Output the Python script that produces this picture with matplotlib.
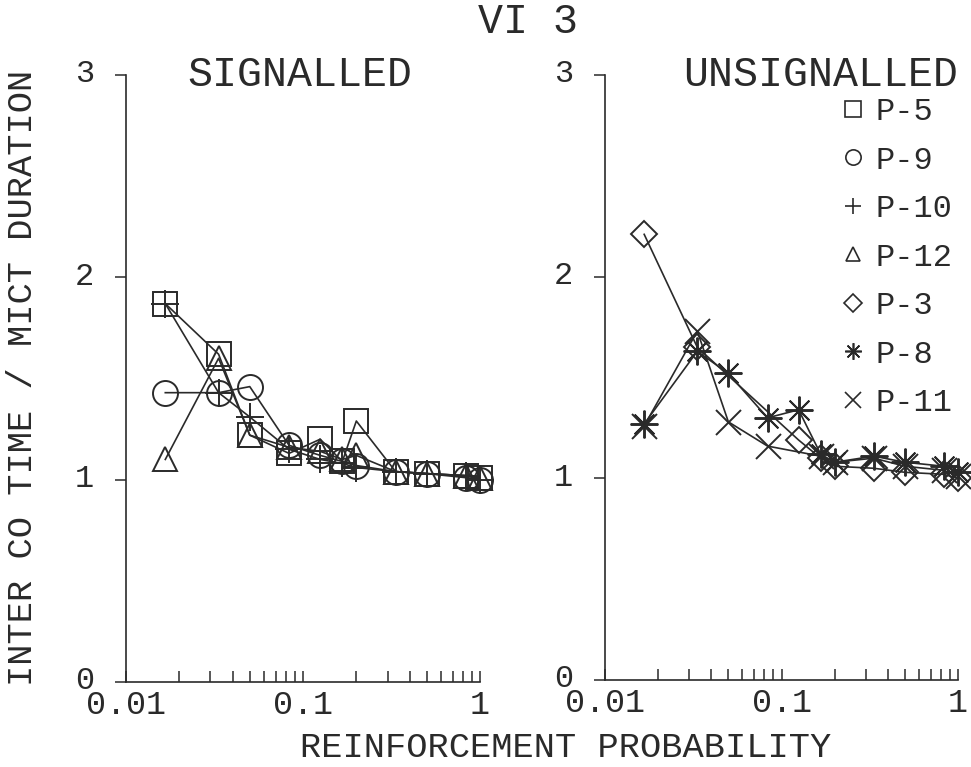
import matplotlib
matplotlib.use("Agg")
import matplotlib.pyplot as plt
import matplotlib.transforms as mtransforms
import numpy as np
from matplotlib.lines import Line2D
from matplotlib.ticker import FixedLocator, LogLocator, NullFormatter

plt.rcParams['font.family'] = ['Liberation Mono', 'DejaVu Sans Mono']

INK = '#2a2a2a'

# reinforcement probabilities used in the sessions
probs = [1/60, 1/30, 1/20, 1/12, 1/8, 1/6, 1/5, 1/3, 1/2, 0.83, 1.0]

# signalled condition (left panel)
p5_y = [1.87, 1.62, 1.22, 1.13, 1.20, 1.09, 1.29, 1.04, 1.03, 1.02, 1.01]
p9_y = [1.43, 1.43, 1.46, 1.17, 1.12, 1.09, 1.07, 1.04, 1.03, 1.01, 1.00]
p10_y = [1.87, 1.43, 1.31, 1.15, 1.10, 1.08, 1.06, 1.04, 1.03, 1.02, 1.00]
p12_y = [1.10, 1.60, 1.22, 1.16, 1.14, 1.10, 1.12, 1.04, 1.03, 1.02, 1.01]

# unsignalled condition (right panel)
p3_x = [1/60, 1/30, 1/8, 1/6, 1/5, 1/3, 1/2, 0.83, 1.0]
p3_y = [2.21, 1.65, 1.19, 1.10, 1.06, 1.05, 1.03, 1.02, 1.00]
p8_x = probs
p8_y = [1.27, 1.63, 1.52, 1.30, 1.34, 1.12, 1.08, 1.11, 1.08, 1.06, 1.03]
p11_x = [1/60, 1/30, 1/20, 1/12, 1/6, 1/5, 1/3, 1/2, 0.83, 1.0]
p11_y = [1.26, 1.73, 1.28, 1.16, 1.11, 1.08, 1.10, 1.06, 1.04, 1.01]

labels = ['P-5', 'P-9', 'P-10', 'P-12', 'P-3', 'P-8', 'P-11']
markers = ['s', 'o', '+', '^', 'D', (8, 2, 0), 'x']
sizes = [17, 18, 20, 17, 13, 20, 18]
legend_sizes = [11, 11, 12, 10, 9, 12, 12]


def style_axes(ax, fig):
    ax.set_xscale('log')
    ax.set_xlim(0.01, 1)
    ax.set_ylim(0, 3)
    for side in ('top', 'right'):
        ax.spines[side].set_visible(False)
    for side in ('left', 'bottom'):
        ax.spines[side].set_linewidth(1.2)
        ax.spines[side].set_color(INK)
    ax.set_xticks([0.01, 0.1, 1])
    ax.set_xticklabels(['0.01', '0.1', '1'])
    ax.xaxis.set_minor_locator(LogLocator(base=10, subs=np.arange(2, 10)))
    ax.xaxis.set_minor_formatter(NullFormatter())
    ax.yaxis.set_major_locator(FixedLocator([0, 1, 2, 3]))
    ax.tick_params(axis='x', which='both', direction='in', length=8,
                   width=1.1, color=INK, labelsize=24, pad=6, labelcolor=INK)
    ax.tick_params(axis='y', direction='out', length=8, width=1.1,
                   color=INK, labelsize=23, pad=15, labelcolor=INK)
    # y labels sit a little above their ticks in the original
    lift = mtransforms.ScaledTranslation(0, 3 / 72, fig.dpi_scale_trans)
    for lab in ax.get_yticklabels():
        lab.set_transform(lab.get_transform() + lift)


def draw(ax, x, y, idx):
    ax.plot(x, y, color=INK, linewidth=1.2, marker=markers[idx],
            markersize=sizes[idx], markerfacecolor='none',
            markeredgecolor=INK, markeredgewidth=1.4, clip_on=False)


fig = plt.figure(figsize=(9.71, 7.67), dpi=100)
ax1 = fig.add_axes([0.1298, 0.1108, 0.3646, 0.7914])
ax2 = fig.add_axes([0.6231, 0.1134, 0.3635, 0.7888])

for ax in (ax1, ax2):
    style_axes(ax, fig)

for i, ys in enumerate([p5_y, p9_y, p10_y, p12_y]):
    draw(ax1, probs, ys, i)

draw(ax2, p3_x, p3_y, 4)
draw(ax2, p8_x, p8_y, 5)
draw(ax2, p11_x, p11_y, 6)

ax1.text(0.49, 1.0, 'SIGNALLED', transform=ax1.transAxes, ha='center',
         va='center', fontsize=30, color=INK)
ax2.text(1.0, 1.0, 'UNSIGNALLED', transform=ax2.transAxes, ha='right',
         va='center', fontsize=30, color=INK)

handles = [Line2D([], [], linestyle='none', marker=m, markersize=s,
                  markerfacecolor='none', markeredgecolor=INK,
                  markeredgewidth=1.2)
           for m, s in zip(markers, legend_sizes)]
ax2.legend(handles, labels, loc='upper right', bbox_to_anchor=(1.03, 0.99),
           frameon=False, fontsize=23, handlelength=0.7, handletextpad=0.35,
           labelspacing=0.58, borderpad=0, labelcolor=INK)

fig.text(0.544, 0.971, 'VI 3', ha='center', va='center', fontsize=30,
         color=INK)
fig.text(0.583, 0.025, 'REINFORCEMENT PROBABILITY', ha='center',
         va='center', fontsize=25.5, color=INK)
fig.text(0.023, 0.507, 'INTER CO TIME / MICT DURATION', ha='center',
         va='center', rotation=90, fontsize=25.5, color=INK)

fig.savefig('out.png', dpi=100, facecolor='white')
